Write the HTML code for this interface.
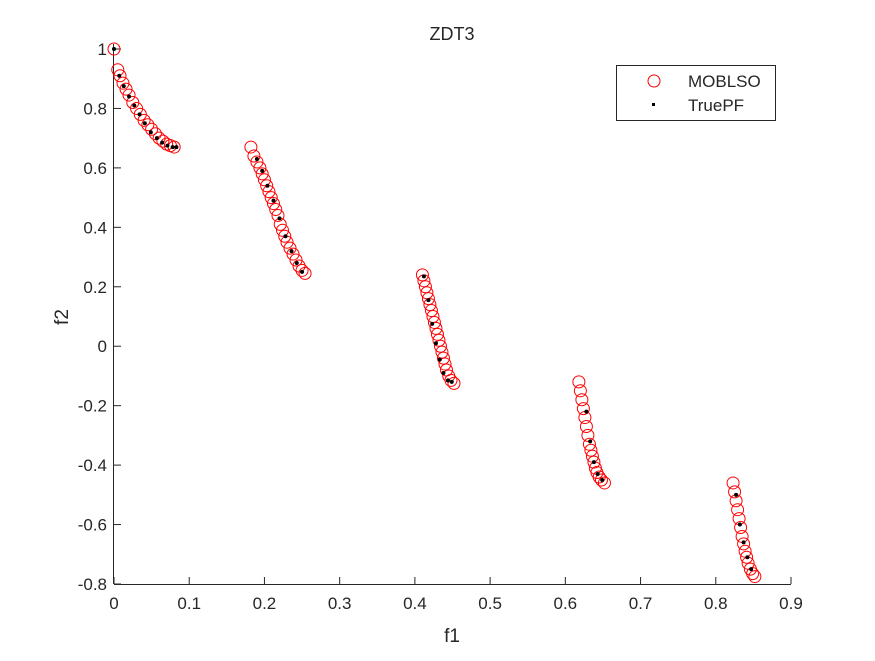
<!DOCTYPE html>
<html><head><meta charset="utf-8"><style>
body{margin:0;background:#fff}
svg text{font-family:"Liberation Sans",Arial,sans-serif;fill:#262626}
</style></head><body>
<svg id="chart" width="875" height="656" viewBox="0 0 875 656">
<rect width="875" height="656" fill="#fff"/>
<text x="452" y="40" font-size="18" text-anchor="middle">ZDT3</text>
<g id="axes"></g>
<g id="circles"></g>
<g id="dots"></g>
<text x="452" y="642" font-size="19" text-anchor="middle">f1</text>
<text x="68" y="317" font-size="19" text-anchor="middle" transform="rotate(-90 68 317)">f2</text>
<g>
<rect x="616.5" y="65.5" width="159" height="55" fill="#fff" stroke="#262626" stroke-width="1"/>
<circle cx="654" cy="81" r="6" fill="none" stroke="#ff0000" stroke-width="1"/>
<text x="688" y="87" font-size="17">MOBLSO</text>
<rect x="652" y="103" width="3" height="3" fill="#000"/>
<text x="688" y="111" font-size="17">TruePF</text>
</g>
</svg>
<script>
const xTicks=[0,0.1,0.2,0.3,0.4,0.5,0.6,0.7,0.8,0.9];
const xTickLabels=["0","0.1","0.2","0.3","0.4","0.5","0.6","0.7","0.8","0.9"];
const yTicks=[1,0.8,0.6,0.4,0.2,0,-0.2,-0.4,-0.6,-0.8];
const yTickLabels=["1","0.8","0.6","0.4","0.2","0","-0.2","-0.4","-0.6","-0.8"];
const moF1=[0,0.005,0.008,0.012,0.016,0.02,0.025,0.03,0.035,0.04,0.045,0.05,0.055,0.06,0.065,0.07,0.075,0.08,
0.182,0.186,0.19,0.194,0.197,0.2,0.203,0.206,0.209,0.212,0.215,0.218,0.221,0.224,0.227,0.23,0.234,0.238,0.242,0.246,0.25,0.254,
0.41,0.412,0.414,0.416,0.418,0.42,0.422,0.424,0.426,0.428,0.43,0.432,0.434,0.436,0.438,0.44,0.442,0.445,0.448,0.452,
0.618,0.62,0.622,0.624,0.626,0.628,0.63,0.632,0.634,0.636,0.638,0.64,0.642,0.645,0.648,0.652,
0.823,0.825,0.827,0.829,0.831,0.833,0.835,0.837,0.839,0.841,0.843,0.846,0.849,0.852];
const moF2=[1,0.93,0.91,0.885,0.865,0.845,0.82,0.8,0.78,0.76,0.745,0.73,0.715,0.7,0.69,0.68,0.675,0.67,
0.67,0.64,0.62,0.6,0.58,0.56,0.54,0.52,0.5,0.48,0.46,0.44,0.41,0.39,0.37,0.35,0.33,0.31,0.29,0.27,0.255,0.245,
0.24,0.22,0.2,0.18,0.16,0.14,0.12,0.1,0.08,0.06,0.04,0.02,0,-0.02,-0.04,-0.06,-0.08,-0.1,-0.115,-0.125,
-0.12,-0.15,-0.18,-0.21,-0.24,-0.27,-0.3,-0.33,-0.35,-0.37,-0.39,-0.41,-0.425,-0.44,-0.45,-0.46,
-0.46,-0.49,-0.52,-0.55,-0.58,-0.61,-0.64,-0.665,-0.69,-0.71,-0.73,-0.75,-0.765,-0.775];
const pfF1=[0,0.007,0.013,0.02,0.027,0.034,0.041,0.049,0.057,0.064,0.071,0.078,0.083,
0.19,0.197,0.204,0.212,0.22,0.228,0.236,0.243,0.25,
0.412,0.418,0.423,0.428,0.433,0.438,0.444,0.449,
0.628,0.633,0.638,0.643,0.649,
0.827,0.832,0.837,0.842,0.847];
const pfF2=[1,0.91,0.875,0.84,0.81,0.78,0.75,0.72,0.7,0.685,0.675,0.67,0.67,
0.63,0.59,0.54,0.49,0.43,0.37,0.32,0.28,0.25,
0.235,0.155,0.075,0.01,-0.045,-0.09,-0.115,-0.12,
-0.22,-0.32,-0.39,-0.43,-0.45,
-0.5,-0.6,-0.66,-0.71,-0.75];
const NS='http://www.w3.org/2000/svg';
const L=114,R=791,T=49,B=584;
const xs=v=>L+(v-0)/0.9*(R-L);
const ys=v=>B-(v+0.8)/1.8*(B-T);
const axes=document.getElementById('axes');
function mk(tag,a,p){const e=document.createElementNS(NS,tag);for(const k in a)e.setAttribute(k,a[k]);p.appendChild(e);return e;}
let e=mk('line',{x1:L,y1:B+0.5,x2:R,y2:B+0.5,stroke:'#262626'},axes);


e=mk('line',{x1:L-0.5,y1:T-5,x2:L-0.5,y2:B,stroke:'#262626'},axes);


xTicks.forEach((v,i)=>{const x=xs(v);
let t=mk('line',{x1:x,y1:B,x2:x,y2:B-7,stroke:'#262626'},axes);


let tx=mk('text',{x:x,y:B+25,'font-size':17,'text-anchor':'middle'},axes);tx.textContent=xTickLabels[i];

});
yTicks.forEach((v,i)=>{const y=ys(v);
let t=mk('line',{x1:L,y1:y,x2:L+7,y2:y,stroke:'#262626'},axes);


let tx=mk('text',{x:L-7,y:y+6,'font-size':17,'text-anchor':'end'},axes);tx.textContent=yTickLabels[i];

});
const cg=document.getElementById('circles');
moF1.forEach((v,i)=>{let c=mk('circle',{cx:xs(v),cy:ys(moF2[i]),r:6,fill:'none',stroke:'#ff0000','stroke-width':1},cg);

});
const dg=document.getElementById('dots');
pfF1.forEach((v,i)=>{let c=mk('circle',{cx:xs(v),cy:ys(pfF2[i]),r:2,fill:'#000'},dg);

});
</script>
</body></html>
